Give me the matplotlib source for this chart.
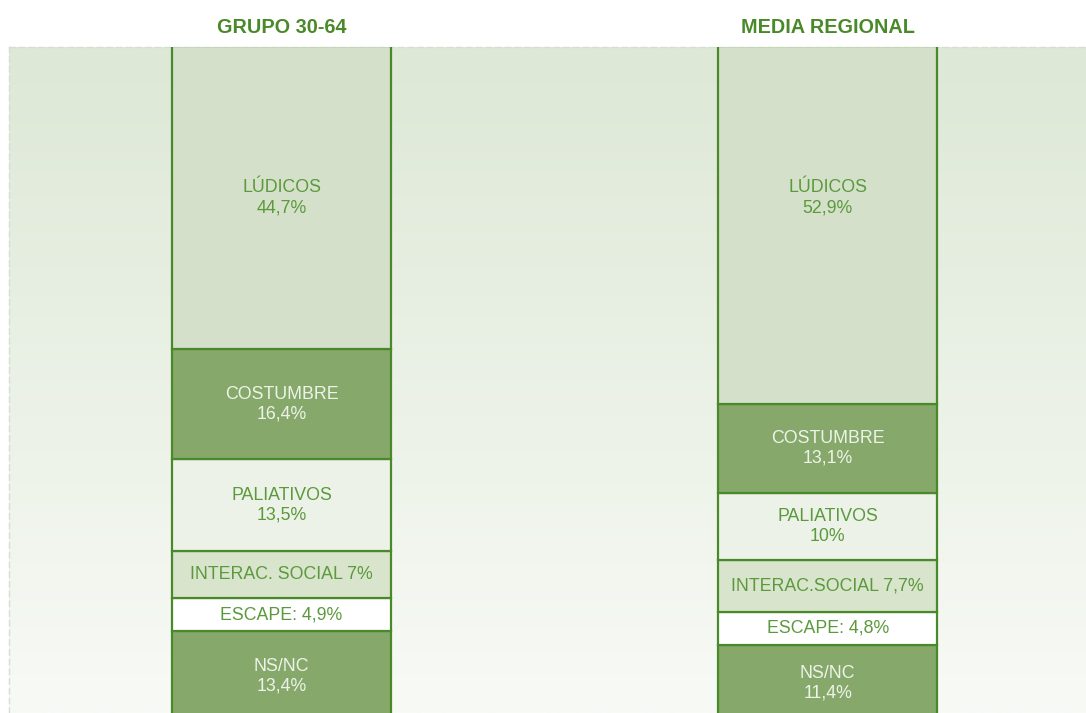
import matplotlib.pyplot as plt
import numpy as np
from matplotlib.colors import LinearSegmentedColormap

plt.rcParams['font.family'] = ['Liberation Sans', 'DejaVu Sans']

# data (stack order: bottom to top)
groups = ['GRUPO 30-64', 'MEDIA REGIONAL']
categories = ['NS/NC', 'ESCAPE', 'INTERAC. SOCIAL', 'PALIATIVOS', 'COSTUMBRE', 'LÚDICOS']
grupo_30_64 = [13.4, 4.9, 7.0, 13.5, 16.4, 44.7]
media_regional = [11.4, 4.8, 7.7, 10.0, 13.1, 52.9]
labels_30_64 = ['NS/NC\n13,4%', 'ESCAPE: 4,9%', 'INTERAC. SOCIAL 7%',
                'PALIATIVOS\n13,5%', 'COSTUMBRE\n16,4%', 'LÚDICOS\n44,7%']
labels_media = ['NS/NC\n11,4%', 'ESCAPE: 4,8%', 'INTERAC.SOCIAL 7,7%',
                'PALIATIVOS\n10%', 'COSTUMBRE\n13,1%', 'LÚDICOS\n52,9%']

fills = ['#86a96b', '#ffffff', '#d8e4cc', '#edf2e8', '#86a96b', '#d4e0c9']
text_colors = ['#eef3ea', '#5b9a3c', '#5b9a3c', '#5b9a3c', '#eef3ea', '#5b9a3c']
edge = '#4a892a'
title_color = '#4a892a'

fig = plt.figure(figsize=(10.86, 7.13), dpi=100)
ax = fig.add_axes([9 / 1086, 0, 1 - 9 / 1086, 1 - 47 / 713])
ax.set_xlim(-0.499, 1.473)
ax.set_ylim(1.3, 99.8)

# soft background gradient
cmap = LinearSegmentedColormap.from_list('bg', ['#f8faf6', '#dde8d6'])
grad = np.linspace(0, 1, 256).reshape(-1, 1)
ax.imshow(grad, aspect='auto', cmap=cmap, origin='lower',
          extent=(-0.499, 1.473, 1.3, 99.8), zorder=0)

width = 0.401
for i, (vals, labs) in enumerate([(grupo_30_64, labels_30_64),
                                  (media_regional, labels_media)]):
    bottom = 0
    for j, v in enumerate(vals):
        ax.bar(i, v, width=width, bottom=bottom, color=fills[j],
               edgecolor=edge, linewidth=1.6, zorder=2)
        y = bottom + v / 2
        if j == len(vals) - 1:
            y = 77.5
        ax.text(i, y, labs[j], ha='center', va='center', fontsize=12.8,
                color=text_colors[j], linespacing=1.2, zorder=3)
        bottom += v
    ax.text(i, 99.8 + 2.9, groups[i], ha='center', va='center', fontsize=14.3,
            fontweight='bold', color=title_color, clip_on=False)

for s in ['right', 'bottom']:
    ax.spines[s].set_visible(False)
for s in ['left', 'top']:
    ax.spines[s].set_linestyle((0, (4, 3)))
    ax.spines[s].set_color('#d6ddd2')
    ax.spines[s].set_linewidth(1)
    ax.spines[s].set_zorder(1)
ax.set_xticks([])
ax.set_yticks([])

fig.savefig('out.png', dpi=100)
